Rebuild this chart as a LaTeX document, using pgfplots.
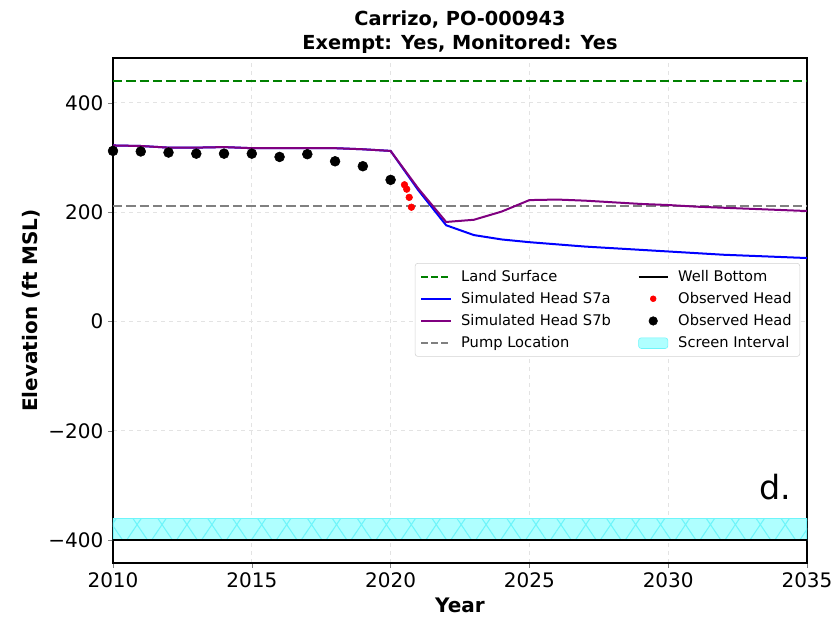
\documentclass[border=0pt]{standalone}
\usepackage{pgfplots}
\pgfplotsset{compat=1.18}
\usepackage{fontspec}
\setmainfont{DejaVu Sans}
\usetikzlibrary{patterns.meta}

\definecolor{mplgreen}{RGB}{0,128,0}
\definecolor{mplpurple}{RGB}{128,0,128}
\definecolor{mplgray}{RGB}{128,128,128}
\definecolor{screenfill}{RGB}{175,255,255}
\definecolor{screenhatch}{RGB}{110,245,250}

\pgfplotsset{
    lineleg/.style={legend image code/.code={\draw[##1] (0pt,0pt) -- (22pt,0pt);}},
    dotleg/.style={legend image code/.code={\draw[##1] plot coordinates {(11pt,0pt)};}},
    boxleg/.style={legend image code/.code={\draw[##1] (0pt,-4pt) rectangle (22pt,4pt);}},
}

\begin{document}
\begin{tikzpicture}
\begin{axis}[
    name=ax,
    scale only axis,
    width=520.5pt, height=378.75pt,
    xmin=2010, xmax=2035,
    ymin=-442, ymax=482,
    xtick={2010,2015,2020,2025,2030,2035},
    ytick={-400,-200,0,200,400},
    yticklabels={−400,−200,0,200,400},
    xticklabel style={/pgf/number format/.cd, set thousands separator={}},
    /pgf/number format/assume math mode=true,
    tick label style={font=\fontsize{15}{18}\selectfont},
    tick align=outside,
    major tick length=3.75pt,
    xtick pos=left, ytick pos=left,
    grid=major,
    major grid style={dashed, gray!22, line width=0.5pt},
    axis line style={line width=0.8pt},
    title={\textbf{Carrizo, PO-000943}\\\textbf{Exempt: Yes, Monitored: Yes}},
    title style={align=center, font=\fontsize{14.5}{18}\selectfont, yshift=-6.5pt},
    xlabel={\textbf{Year}},
    ylabel={\textbf{Elevation (ft MSL)}},
    label style={font=\fontsize{15}{18}\selectfont},
    ylabel style={yshift=-1pt},
    xlabel style={yshift=-1pt},
    legend columns=2,
    legend cell align=left,
    legend style={at={(0.99,0.594)}, anchor=north east,
        font=\fontsize{11}{13}\selectfont,
        draw=gray!35, rounded corners=2pt, fill=white,
        column sep=5pt, row sep=2.8pt,
        /tikz/every even column/.append style={column sep=18pt},
        inner xsep=4pt, inner ysep=3pt},
    lineleg,
]
% screen interval
\addplot[draw=screenhatch, line width=0.8pt, fill=screenfill, forget plot]
    coordinates {(2010,-400) (2035,-400) (2035,-360) (2010,-360)} -- cycle;
\addplot[draw=none, pattern={Lines[angle=56, distance=15.5pt, line width=0.8pt]}, pattern color=screenhatch, forget plot]
    coordinates {(2010,-400) (2035,-400) (2035,-360) (2010,-360)} -- cycle;
\addplot[draw=none, pattern={Lines[angle=-56, distance=15.5pt, line width=0.8pt]}, pattern color=screenhatch, forget plot]
    coordinates {(2010,-400) (2035,-400) (2035,-360) (2010,-360)} -- cycle;

% land surface
\addplot[mplgreen, line width=1.5pt, dash pattern=on 7pt off 3pt, forget plot]
    coordinates {(2010,440) (2035,440)};
% pump location
\addplot[mplgray, line width=1.5pt, dash pattern=on 7pt off 3pt, forget plot]
    coordinates {(2010,212) (2035,212)};
% well bottom
\addplot[black, line width=1.5pt, forget plot]
    coordinates {(2010,-400) (2035,-400)};

% simulated head S7a
\addplot[blue, line width=1.5pt, forget plot] coordinates {
    (2010,322) (2011,321) (2012,318) (2013,318) (2014,319) (2015,317)
    (2016,317) (2017,317) (2018,317) (2019,315) (2020,312) (2021,240)
    (2022,176) (2023,158) (2024,150) (2025,145) (2026,141) (2027,137)
    (2028,134) (2029,131) (2030,128) (2031,125) (2032,122) (2033,120)
    (2034,118) (2035,116)};
% simulated head S7b
\addplot[mplpurple, line width=1.5pt, forget plot] coordinates {
    (2010,322) (2011,321) (2012,318) (2013,318) (2014,319) (2015,317)
    (2016,317) (2017,317) (2018,317) (2019,315) (2020,312) (2021,243)
    (2022,182) (2023,186) (2024,201) (2025,222) (2026,223) (2027,221)
    (2028,218) (2029,215) (2030,213) (2031,210) (2032,208) (2033,206)
    (2034,204) (2035,202)};

% observed head (black)
\addplot[only marks, mark=*, mark size=3.7pt, black, forget plot] coordinates {
    (2010,312) (2011,311) (2012,309) (2013,307) (2014,307) (2015,307)
    (2016,301) (2017,306) (2018,293) (2019,284) (2020,259)};
% observed head (red)
\addplot[only marks, mark=*, mark size=2.5pt, red, forget plot] coordinates {
    (2020.50,250) (2020.58,242) (2020.67,227) (2020.75,209)};

\node[font=\fontsize{25}{28}\selectfont, anchor=base east] at (axis cs:2034.6,-325) {d.};

% legend entries (matplotlib column order)
\addlegendimage{mplgreen, line width=1.5pt, dash pattern=on 5pt off 2.5pt}
\addlegendentry{Land Surface}
\addlegendimage{black, line width=1.5pt}
\addlegendentry{Well Bottom}
\addlegendimage{blue, line width=1.5pt}
\addlegendentry{Simulated Head S7a}
\addlegendimage{only marks, mark=*, mark size=2.2pt, red, dotleg}
\addlegendentry{Observed Head}
\addlegendimage{mplpurple, line width=1.5pt}
\addlegendentry{Simulated Head S7b}
\addlegendimage{only marks, mark=*, mark size=3.2pt, black, dotleg}
\addlegendentry{Observed Head}
\addlegendimage{mplgray, line width=1.5pt, dash pattern=on 5pt off 2.5pt}
\addlegendentry{Pump Location}
\addlegendimage{fill=screenfill, draw=screenhatch, boxleg}
\addlegendentry{Screen Interval}
\end{axis}
\pgfresetboundingbox
\path[use as bounding box] ([shift={(-84.75pt,-40.5pt)}]ax.south west) rectangle ([shift={(21pt,43.5pt)}]ax.north east);
\end{tikzpicture}
\end{document}
